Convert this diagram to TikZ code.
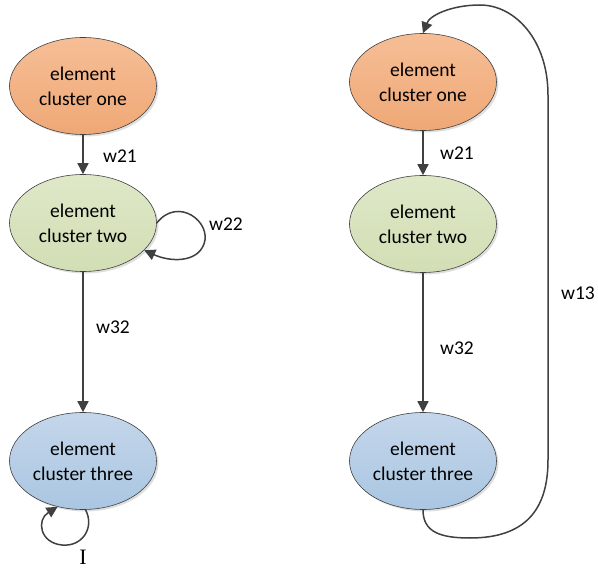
\documentclass[tikz,border=0pt]{standalone}
\usepackage{fontspec}
\setmainfont{Carlito}
\newfontfamily\serifI{Liberation Serif}
\usetikzlibrary{shapes.geometric,arrows.meta,shadows}
\definecolor{linec}{RGB}{64,64,64}
\definecolor{orTop}{RGB}{246,190,150}
\definecolor{orBot}{RGB}{239,168,118}
\definecolor{grTop}{RGB}{222,232,200}
\definecolor{grBot}{RGB}{210,222,180}
\definecolor{blTop}{RGB}{196,214,234}
\definecolor{blBot}{RGB}{170,198,226}
\tikzset{
  clus/.style={ellipse, draw=linec, line width=0.6pt, minimum width=147pt, minimum height=97pt,
    inner sep=0pt, align=center, font=\fontsize{19.5}{25}\selectfont,
    drop shadow={shadow xshift=2pt, shadow yshift=-2pt, opacity=0.25, fill=gray}},
  orange/.style={clus, top color=orTop, bottom color=orBot},
  green/.style={clus, top color=grTop, bottom color=grBot},
  blue/.style={clus, top color=blTop, bottom color=blBot},
  conn/.style={draw=linec, line width=1.5pt, -{Triangle[length=11pt,width=11pt]}},
  lab/.style={font=\fontsize{19.5}{22}\selectfont, inner sep=0pt}
}
\begin{document}
\begin{tikzpicture}[x=1pt,y=-1pt]
\useasboundingbox (0,0) rectangle (598,572);
% left column
\node[orange] (L1) at (83,86) {element\\cluster one};
\node[green] (L2) at (83,223) {element\\cluster two};
\node[blue] (L3) at (83,461) {element\\cluster three};
\draw[conn] (L1) -- (L2);
\node[lab] (lw21) at (120,156) {w21};
\draw[conn] (L2) -- (L3);
\node[lab] (lw32) at (113,327) {w32};
\draw[conn] (L2.east) .. controls (178,196) and (212,222) .. (204,244)
  .. controls (197,263) and (170,262) .. (L2.-24);
\node[lab] (lw22) at (226,224) {w22};
\draw[conn] (L3.-87) .. controls (95,528) and (82,547) .. (62,545)
  .. controls (40,543) and (36,520) .. (L3.-119);
\node[inner sep=0pt, font=\serifI\fontsize{22}{24}\selectfont] (lI) at (83,557) {I};
% right column
\node[orange] (R1) at (423,82) {element\\cluster one};
\node[green] (R2) at (423,224) {element\\cluster two};
\node[blue] (R3) at (423,461) {element\\cluster three};
\draw[conn] (R1) -- (R2);
\node[lab] (rw21) at (457,153) {w21};
\draw[conn] (R2) -- (R3);
\node[lab] (rw32) at (457,348) {w32};
\draw[conn] (R3.south) .. controls (423,532) and (440,538) .. (470,538)
  .. controls (525,538) and (548,510) .. (548,460)
  -- (548,95) .. controls (548,40) and (515,5) .. (480,5)
  .. controls (452,5) and (430,15) .. (R1.north);
\node[lab] (rw13) at (578,293) {w13};
\end{tikzpicture}
\end{document}
